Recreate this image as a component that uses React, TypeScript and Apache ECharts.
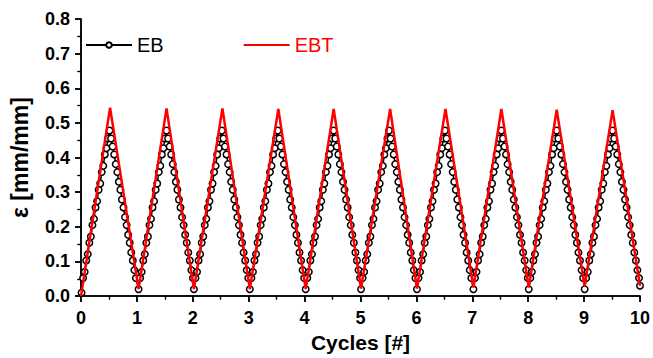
import React, { useEffect, useRef } from "react";
import * as echarts from "echarts";

// EBT (red) vertices: x in cycles, y strain
const EBT_X = [0, 0.52, 1.03, 1.53, 2.02, 2.53, 3.02, 3.53, 4.02, 4.52, 5.01, 5.53, 6.01, 6.52, 7.02, 7.52, 8.01, 8.51, 9.01, 9.51, 10];
const EBT_Y = [0, 0.544, 0.02, 0.542, 0.02, 0.542, 0.02, 0.54, 0.02, 0.54, 0.022, 0.54, 0.022, 0.54, 0.025, 0.54, 0.025, 0.538, 0.028, 0.537, 0.03];

// EB (black) – start of each cycle (trough position) and the sampled shape of one cycle
const EB_CYCLE_START = [0.01, 1.03, 2.02, 3.02, 4.02, 5.01, 6.01, 7.02, 8.01, 9.01];
const EB_CYCLE_Y = [
  0.02, 0.052, 0.07, 0.103, 0.121, 0.154, 0.172, 0.205, 0.223, 0.256, 0.274, 0.307,
  0.325, 0.358, 0.376, 0.409, 0.427, 0.455, 0.478, 0.455, 0.432, 0.409, 0.381, 0.358,
  0.33, 0.307, 0.279, 0.256, 0.228, 0.205, 0.177, 0.154, 0.126, 0.103, 0.075, 0.052,
];
const EB_END = [10, 0.03];

const Y_TICKS = [0, 0.1, 0.2, 0.3, 0.4, 0.5, 0.6, 0.7, 0.8];

export default function App() {
  const ref = useRef<HTMLDivElement>(null);
  useEffect(() => {
    if (!ref.current) return;
    const chart = echarts.init(ref.current, null, { renderer: "svg" });
    const ebt = EBT_X.map((x, i) => [x, EBT_Y[i]]);
    const eb: number[][] = [];
    EB_CYCLE_START.forEach((s, c) => {
      EB_CYCLE_Y.forEach((y, i) => {
        const y0 = c === 0 && i === 0 ? 0.01 : y;
        eb.push([s + i / EB_CYCLE_Y.length, y0]);
      });
    });
    eb.push(EB_END);
    const font = "Liberation Sans, Arial, sans-serif";
    const axisLine = { show: true, lineStyle: { color: "#000", width: 1.5 } };
    chart.setOption({
      animation: false,
      backgroundColor: "#fff",
      grid: { left: 79, right: 11, top: 19, bottom: 57 },
      legend: {
        left: 80,
        top: 30,
        itemWidth: 46,
        itemHeight: 7,
        itemGap: 79,
        textStyle: { fontFamily: font, fontSize: 20, color: "#000" },
        data: [
          { name: "EB" },
          { name: "EBT", itemStyle: { opacity: 0 }, textStyle: { color: "#ff0000" } },
        ],
      },
      xAxis: [
        {
          type: "value",
          min: 0,
          max: 10,
          interval: 1,
          name: "Cycles [#]",
          nameLocation: "middle",
          nameGap: 31,
          nameTextStyle: { fontFamily: font, fontSize: 21, fontWeight: "bold", color: "#000" },
          axisLine,
          axisTick: { show: true, inside: false, length: 6, lineStyle: { color: "#000", width: 1.5 } },
          minorTick: { show: true, splitNumber: 2, length: 3.5, lineStyle: { color: "#000", width: 1.2 } },
          splitLine: { show: false },
          axisLabel: { fontFamily: font, fontSize: 18, fontWeight: "bold", color: "#000", margin: 13 },
        },
        {
          type: "value",
          position: "top",
          min: 0,
          max: 10,
          interval: 1,
          axisLine,
          axisTick: { show: true, inside: true, length: 6, lineStyle: { color: "#000", width: 1.5 } },
          minorTick: { show: true, splitNumber: 2, length: 3.5, lineStyle: { color: "#000", width: 1.2 } },
          splitLine: { show: false },
          axisLabel: { show: false },
        },
      ],
      yAxis: [
        {
          type: "value",
          min: 0,
          max: 0.8,
          interval: 0.1,
          name: "ε [mm/mm]",
          nameLocation: "middle",
          nameGap: 50,
          nameTextStyle: { fontFamily: font, fontSize: 23, fontWeight: "bold", color: "#000" },
          axisLine,
          axisTick: { show: true, inside: false, length: 6, lineStyle: { color: "#000", width: 1.5 } },
          minorTick: { show: true, splitNumber: 2, length: 3.5, lineStyle: { color: "#000", width: 1.2 } },
          splitLine: { show: false },
          axisLabel: {
            fontFamily: font,
            fontSize: 18,
            fontWeight: "bold",
            color: "#000",
            margin: 11,
            formatter: (v: number) => {
              const t = Y_TICKS.find((k) => Math.abs(k - v) < 1e-6);
              return (t ?? v).toFixed(1);
            },
          },
        },
        {
          type: "value",
          position: "right",
          min: 0,
          max: 0.8,
          interval: 0.1,
          axisLine,
          axisTick: { show: true, inside: true, length: 6, lineStyle: { color: "#000", width: 1.5 } },
          minorTick: { show: true, splitNumber: 2, length: 3.5, lineStyle: { color: "#000", width: 1.2 } },
          splitLine: { show: false },
          axisLabel: { show: false },
        },
      ],
      series: [
        {
          name: "EB",
          type: "line",
          data: eb,
          symbol: "circle",
          symbolSize: 6.5,
          showAllSymbol: true,
          itemStyle: { color: "#fff", borderColor: "#000", borderWidth: 1.5 },
          lineStyle: { color: "#000", width: 1.5 },
          z: 2,
        },
        {
          name: "EBT",
          type: "line",
          data: ebt,
          symbol: "none",
          itemStyle: { color: "#ff0000" },
          lineStyle: { color: "#ff0000", width: 2.5 },
          z: 3,
        },
      ],
    });
    return () => chart.dispose();
  }, []);
  return (
    <div
      ref={ref}
      style={{ position: "fixed", left: 0, top: 0, width: 653, height: 358 }}
    />
  );
}
